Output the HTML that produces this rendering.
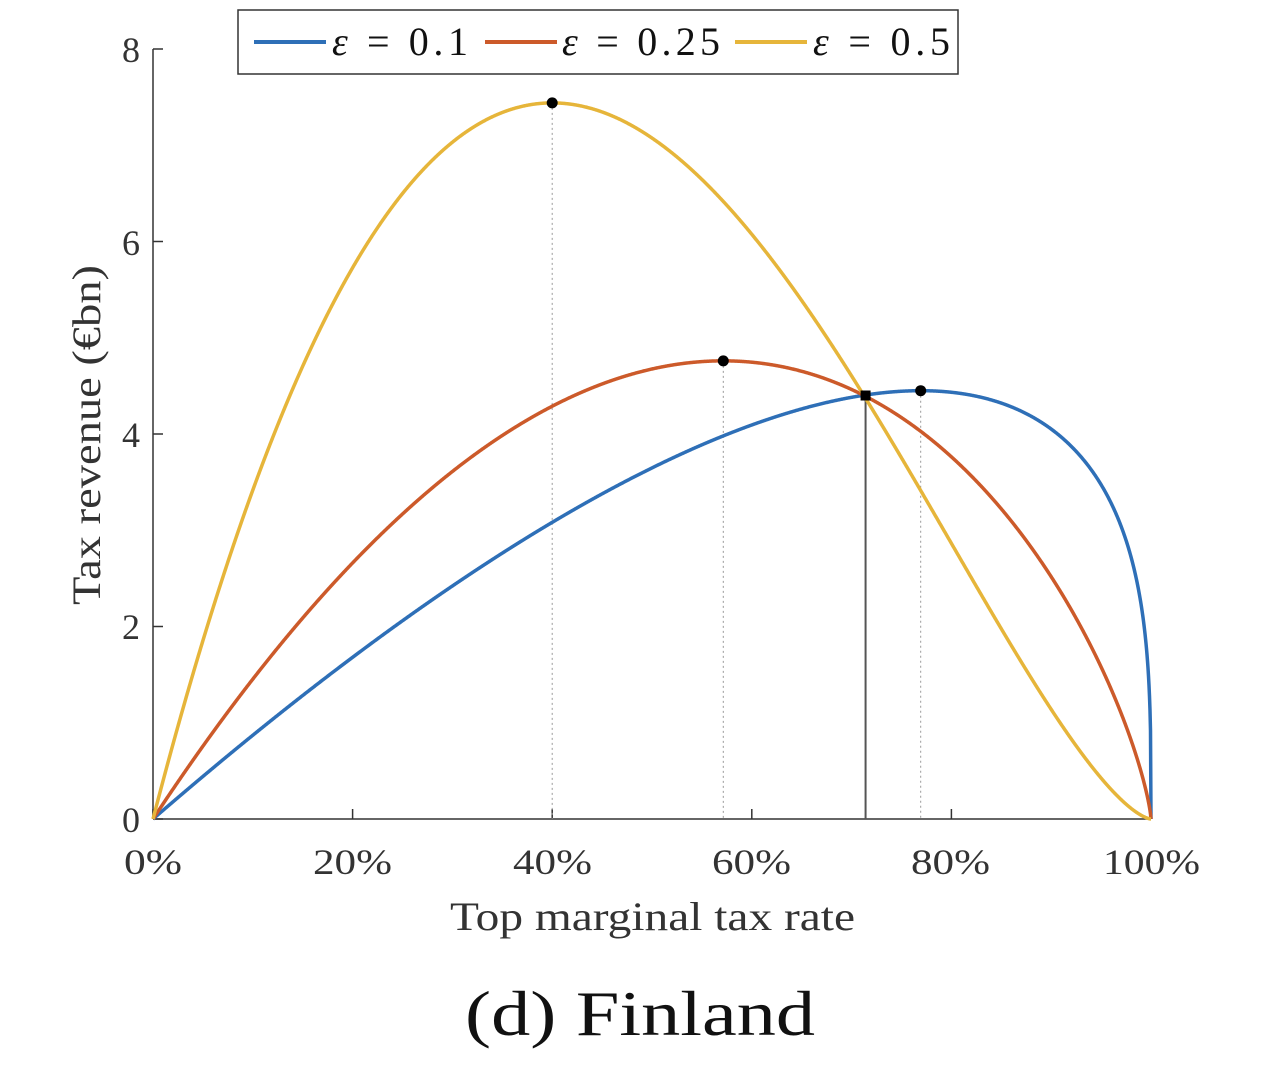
<!DOCTYPE html>
<html><head><meta charset="utf-8"><style>
body{margin:0;background:#fff;}
svg{display:block;font-family:"Liberation Serif",serif;}
</style></head><body>
<svg id="s" width="1269" height="1080" viewBox="0 0 1269 1080" xmlns="http://www.w3.org/2000/svg">
<g id="g"></g>
<g fill="#333" font-size="36">
<text x="140" y="832" text-anchor="end">0</text>
<text x="140" y="639" text-anchor="end">2</text>
<text x="140" y="447" text-anchor="end">4</text>
<text x="140" y="255" text-anchor="end">6</text>
<text x="140" y="62" text-anchor="end">8</text>
<text x="124" y="874" textLength="58" lengthAdjust="spacingAndGlyphs">0%</text>
<text x="313" y="874" textLength="79" lengthAdjust="spacingAndGlyphs">20%</text>
<text x="513" y="874" textLength="79" lengthAdjust="spacingAndGlyphs">40%</text>
<text x="712" y="874" textLength="79" lengthAdjust="spacingAndGlyphs">60%</text>
<text x="911" y="874" textLength="79" lengthAdjust="spacingAndGlyphs">80%</text>
<text x="1103" y="874" textLength="97" lengthAdjust="spacingAndGlyphs">100%</text>
<text x="450" y="930" font-size="40" textLength="405" lengthAdjust="spacingAndGlyphs">Top marginal tax rate</text>
<text transform="translate(100,605) rotate(-90)" font-size="40" textLength="340" lengthAdjust="spacingAndGlyphs">Tax revenue (€bn)</text>
</g>
<text x="465" y="1035" font-size="64" fill="#111" textLength="350" lengthAdjust="spacingAndGlyphs">(d) Finland</text>
<rect x="238" y="10" width="720" height="64" fill="#fff" stroke="#333" stroke-width="1.5"/>
<line x1="254" y1="42" x2="326" y2="42" stroke="#2e6fb7" stroke-width="4"/>
<line x1="485" y1="42" x2="557" y2="42" stroke="#cc5a2a" stroke-width="4"/>
<line x1="735" y1="42" x2="807" y2="42" stroke="#e6b53a" stroke-width="4"/>
<g font-size="40" fill="#111">
<text x="332" y="55" textLength="136" lengthAdjust="spacing"><tspan font-style="italic">ε</tspan> = 0.1</text>
<text x="562" y="55" textLength="158" lengthAdjust="spacing"><tspan font-style="italic">ε</tspan> = 0.25</text>
<text x="813" y="55" textLength="137" lengthAdjust="spacing"><tspan font-style="italic">ε</tspan> = 0.5</text>
</g>
</svg>
<script>
var X0=153,X1=1151,Y0=819,YU=96.25,t0=0.714,R0=4.4;
var g=document.getElementById('g'),ns='http://www.w3.org/2000/svg';
function px(t){return X0+(X1-X0)*t}function py(r){return Y0-YU*r}
function add(tag,a){var e=document.createElementNS(ns,tag);for(var k in a)e.setAttribute(k,a[k]);g.appendChild(e);return e}
add('line',{x1:153,y1:49,x2:153,y2:819,stroke:'#333','stroke-width':1.5});
add('line',{x1:153,y1:819,x2:1151,y2:819,stroke:'#333','stroke-width':1.5});
for(var i=0;i<=5;i++){var x=px(i/5);add('line',{x1:x,y1:819,x2:x,y2:809,stroke:'#333','stroke-width':1.5});}
for(var i=0;i<=4;i++){var y=py(2*i);add('line',{x1:153,y1:y,x2:163,y2:y,stroke:'#333','stroke-width':1.5});}
var es=[[0.1,'#2e6fb7',4.45],[0.25,'#cc5a2a',4.76],[0.5,'#e6b53a',7.44]];
var peaks=[];
es.forEach(function(e){var a=3*e[0];var ts=1/(1+a);var C=e[2]/(ts*Math.pow(1-ts,a));
 var d='';for(var i=0;i<=2000;i++){var t=i/2000;var r=C*t*Math.pow(1-t,a);d+=(i?'L':'M')+px(t).toFixed(2)+' '+py(r).toFixed(2);}
 peaks.push([ts,e[2]]);
 e.push(d);});
peaks.forEach(function(p){add('line',{x1:px(p[0]),y1:py(p[1]),x2:px(p[0]),y2:819,stroke:'#999','stroke-width':1,'stroke-dasharray':'2 3'});});
add('line',{x1:px(t0),y1:py(R0),x2:px(t0),y2:819,stroke:'#555','stroke-width':2});
es.forEach(function(e){add('path',{d:e[3],fill:'none',stroke:e[1],'stroke-width':3.5});});
peaks.forEach(function(p){add('circle',{cx:px(p[0]),cy:py(p[1]),r:5.5,fill:'#000'});});
add('rect',{x:px(t0)-5,y:py(R0)-5,width:10,height:10,fill:'#000'});
</script>
</body></html>
